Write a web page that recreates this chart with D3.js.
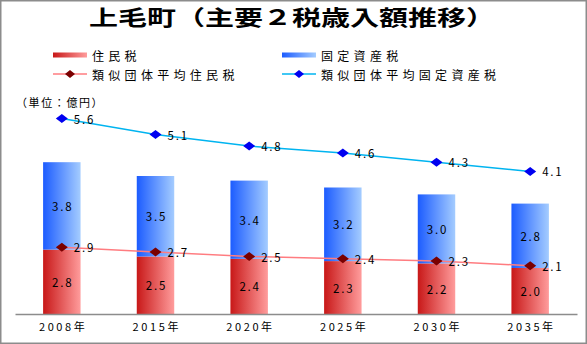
<!DOCTYPE html>
<html><head><meta charset="utf-8">
<script src="https://cdn.jsdelivr.net/npm/d3@7"></script>
<style>
html,body{margin:0;padding:0;background:#fff;}
svg{display:block;}
text{font-family:"Noto Sans CJK JP","Noto Sans",sans-serif;fill:#000;}
</style></head>
<body>
<svg id="chart" width="587" height="344"></svg>
<script>
const years = ["2008","2015","2020","2025","2030","2035"];
const residentTax = [2.8, 2.5, 2.4, 2.3, 2.2, 2.0];
const propertyTax = [3.8, 3.5, 3.4, 3.2, 3.0, 2.8];
const simResident = [2.9, 2.7, 2.5, 2.4, 2.3, 2.1];
const simProperty = [5.6, 5.1, 4.8, 4.6, 4.3, 4.1];
const titleText = "上毛町（主要２税歳入額推移）";
const unitText = "（単位：億円）";
const legendNames = ["住民税","固定資産税","類似団体平均住民税","類似団体平均固定資産税"];

const svg = d3.select("#chart");
const defs = svg.append("defs");
function grad(id, c1, c2){
  const g = defs.append("linearGradient").attr("id", id).attr("x1","0").attr("x2","1").attr("y1","0").attr("y2","0");
  g.append("stop").attr("offset","0%").attr("stop-color", c1);
  g.append("stop").attr("offset","100%").attr("stop-color", c2);
}
grad("gRed", "#c81818", "#ff9c9c");
grad("gBlue", "#1c5cff", "#a4ccff");

// frame
svg.append("rect").attr("x",0.75).attr("y",0.75).attr("width",585.5).attr("height",342.5)
  .attr("fill","none").attr("stroke","#8c8c8c").attr("stroke-width",1.5);

const x = d3.scaleBand().domain(years).range([15, 577]).paddingInner(0.6).paddingOuter(0.3);
const y = d3.scaleLinear().domain([0, 10]).range([314, 84]);

// title
svg.append("text").attr("x", 89).attr("y", 25).attr("font-size", 21).attr("font-weight", "bold")
  .attr("textLength", 406).attr("lengthAdjust","spacingAndGlyphs").text(titleText);

// bars
const data = years.map((yr,i)=>({yr, r: residentTax[i], p: propertyTax[i], sr: simResident[i], sp: simProperty[i]}));
const bw = x.bandwidth();
svg.selectAll("rect.red").data(data).enter().append("rect").attr("class","red")
  .attr("x", d=>x(d.yr)).attr("width", bw)
  .attr("y", d=>y(d.r)).attr("height", d=>y(0)-y(d.r)).attr("fill","url(#gRed)");
svg.selectAll("rect.blue").data(data).enter().append("rect").attr("class","blue")
  .attr("x", d=>x(d.yr)).attr("width", bw)
  .attr("y", d=>y(d.r+d.p)).attr("height", d=>y(d.r)-y(d.r+d.p)).attr("fill","url(#gBlue)");

// bar labels
const lblStyle = sel => sel.attr("font-size", 11.5).attr("letter-spacing", 1.8).attr("text-anchor","middle").attr("dominant-baseline","central");
svg.selectAll("text.rl").data(data).enter().append("text").attr("class","rl")
  .attr("x", d=>x(d.yr)+bw/2+0.9).attr("y", d=>(y(0)+y(d.r))/2).call(lblStyle).text(d=>d.r.toFixed(1));
svg.selectAll("text.bl").data(data).enter().append("text").attr("class","bl")
  .attr("x", d=>x(d.yr)+bw/2+0.9).attr("y", d=>(y(d.r)+y(d.r+d.p))/2).call(lblStyle).text(d=>d.p.toFixed(1));

// axis
const axis = d3.axisBottom(x).tickSize(0).tickPadding(9).tickFormat(d=>d+"年");
const ag = svg.append("g").attr("transform", `translate(0,${y(0)})`).call(axis);
ag.select(".domain").attr("stroke","#8c8c8c").attr("stroke-width",1.5);
ag.selectAll("text").attr("font-size", 11).attr("letter-spacing", 2.6).attr("dx", 1.3)
  .style("font-family",'"Noto Sans CJK JP",sans-serif').attr("fill","#000");

// lines (stacked)
const cx = d => x(d)+bw/2;
const diamond = (px, py, hw, hh) => `M${px-hw},${py}L${px},${py-hh}L${px+hw},${py}L${px},${py+hh}Z`;
const lineR = d3.line().x(d=>cx(d.yr)).y(d=>y(d.sr));
const lineP = d3.line().x(d=>cx(d.yr)).y(d=>y(d.sr+d.sp));
svg.append("path").datum(data).attr("d", lineR).attr("fill","none").attr("stroke","#ff7c80").attr("stroke-width",1.5);
svg.append("path").datum(data).attr("d", lineP).attr("fill","none").attr("stroke","#00b4f0").attr("stroke-width",1.5);
svg.selectAll("path.mr").data(data).enter().append("path").attr("class","mr")
  .attr("d", d=>diamond(cx(d.yr), y(d.sr), 6, 4.5)).attr("fill","#7a0000");
svg.selectAll("path.mp").data(data).enter().append("path").attr("class","mp")
  .attr("d", d=>diamond(cx(d.yr), y(d.sr+d.sp), 6, 4.5)).attr("fill","#0000f0");
const llStyle = sel => sel.attr("font-size", 11.5).attr("letter-spacing", 1.8).attr("dominant-baseline","central");
svg.selectAll("text.lr").data(data).enter().append("text").attr("class","lr")
  .attr("x", d=>cx(d.yr)+12).attr("y", d=>y(d.sr)).call(llStyle).text(d=>d.sr.toFixed(1));
svg.selectAll("text.lp").data(data).enter().append("text").attr("class","lp")
  .attr("x", d=>cx(d.yr)+12).attr("y", d=>y(d.sr+d.sp)).call(llStyle).text(d=>d.sp.toFixed(1));

// unit
svg.append("text").attr("x", 16).attr("y", 107).attr("font-size", 11).attr("letter-spacing", 1.6).text(unitText);

// legend
const leg = svg.append("g");
const legItems = [
  {name: legendNames[0], x: 53, y: 55, type: "bar", fill: "url(#gRed)"},
  {name: legendNames[1], x: 282, y: 55, type: "bar", fill: "url(#gBlue)"},
  {name: legendNames[2], x: 53, y: 74, type: "line", stroke: "#ff7c80", mk: "#7a0000"},
  {name: legendNames[3], x: 282, y: 74, type: "line", stroke: "#00b4f0", mk: "#0000f0"}
];
legItems.forEach(it=>{
  if(it.type==="bar"){
    leg.append("rect").attr("x", it.x).attr("y", it.y-2.5).attr("width", 34).attr("height", 5).attr("fill", it.fill);
  } else {
    leg.append("line").attr("x1", it.x).attr("x2", it.x+34).attr("y1", it.y).attr("y2", it.y).attr("stroke", it.stroke).attr("stroke-width",1.5);
    leg.append("path").attr("d", diamond(it.x+17, it.y, 5, 4)).attr("fill", it.mk);
  }
  leg.append("text").attr("x", it.x+39).attr("y", it.y).attr("dominant-baseline","central")
    .attr("font-size", 12).attr("letter-spacing", 4.3).text(it.name);
});
</script>
</body></html>
